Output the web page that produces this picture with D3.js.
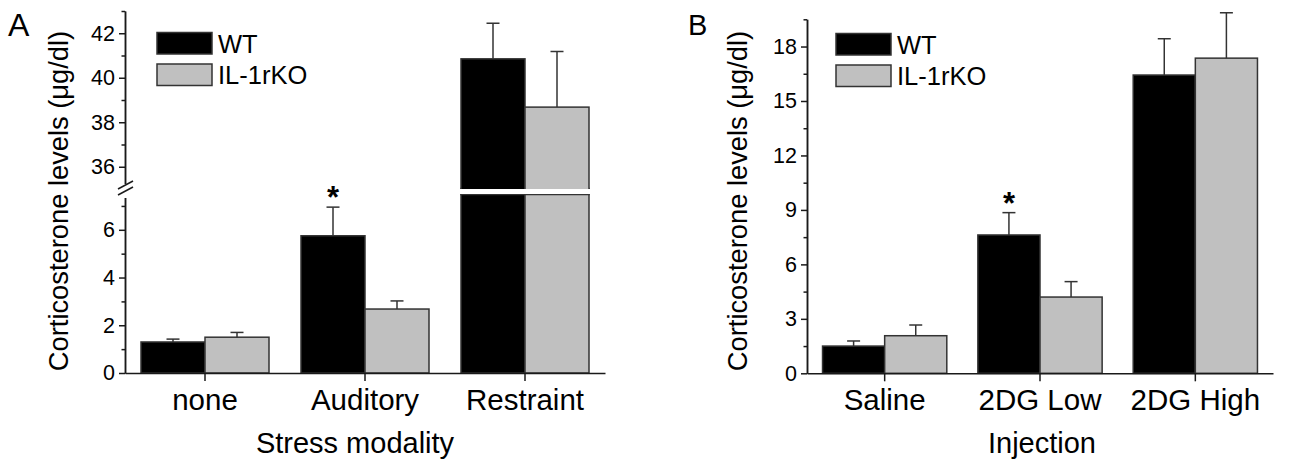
<!DOCTYPE html>
<html><head><meta charset="utf-8">
<script src="https://cdn.jsdelivr.net/npm/d3@7"></script>
<style>
html,body{margin:0;padding:0;background:#fff;}
svg{display:block;font-family:Arial,"Liberation Sans",Helvetica,sans-serif;}
</style></head>
<body>
<svg id="chart" width="1289" height="465"></svg>
<script>
// ---- data ----
const seriesNames = ["WT", "IL-1rKO"];
const seriesColors = ["#000000", "#c0c0c0"];

const categoriesA = ["none", "Auditory", "Restraint"];
const wtMeanA = [1.3, 5.75, 40.85];
const wtErrA  = [0.12, 1.2, 1.6];
const koMeanA = [1.5, 2.68, 38.68];
const koErrA  = [0.2, 0.34, 2.5];
const sigA    = [false, true, false];
const lowerTicksA = [0, 2, 4, 6];
const lowerMinorA = [1, 3, 5, 7];
const upperTicksA = [36, 38, 40, 42];
const upperMinorA = [37, 39, 41, 43];

const categoriesB = ["Saline", "2DG Low", "2DG High"];
const wtMeanB = [1.5, 7.62, 16.43];
const wtErrB  = [0.28, 1.23, 2.0];
const koMeanB = [2.07, 4.2, 17.36];
const koErrB  = [0.59, 0.85, 2.5];
const sigB    = [false, true, false];
const ticksB = [0, 3, 6, 9, 12, 15, 18];
const minorB = [1.5, 4.5, 7.5, 10.5, 13.5, 16.5, 19.5];

const yTitle = "Corticosterone levels (\u03bcg/dl)";
const xTitleA = "Stress modality";
const xTitleB = "Injection";

// ---- drawing ----
const svg = d3.select("#chart");
const AX = "#1a1a1a";
const STROKE = "#333";

function rowsFor(cats, wm, we, km, ke) {
  return cats.map((c, i) => ({cat: c, vals: [
    {s: seriesNames[0], m: wm[i], e: we[i], col: seriesColors[0]},
    {s: seriesNames[1], m: km[i], e: ke[i], col: seriesColors[1]}]}));
}

function styleAxis(g, fs) {
  g.selectAll("path.domain").attr("stroke", AX).attr("stroke-width", 1.5);
  g.selectAll(".tick line").attr("stroke", AX).attr("stroke-width", 1.5);
  g.selectAll(".tick text").attr("fill", "#000").attr("font-size", fs)
    .attr("font-family", "Arial, 'Liberation Sans', sans-serif");
}

function legend(x, y) {
  seriesNames.forEach((s, i) => {
    svg.append("rect").attr("x", x).attr("y", y + i * 31.5).attr("width", 55).attr("height", 21.5)
      .attr("fill", seriesColors[i]).attr("stroke", STROKE).attr("stroke-width", 1.5);
    svg.append("text").attr("x", x + 61).attr("y", y + i * 31.5 + 20)
      .attr("font-size", 25.5).attr("fill", "#000").text(s);
  });
}

function drawBars(rows, x, xs, segs, sig, gap) {
  rows.forEach((r, ci) => {
    r.vals.forEach(v => {
      const x0 = x(r.cat) + xs(v.s), w = xs.bandwidth();
      segs.forEach(sg => {
        const [d0, d1] = sg.y.domain();
        if (v.m <= d0) return;
        const top = Math.min(v.m, d1);
        let yT = sg.y(top), yB = sg.y(d0);
        if (gap && v.m > d1) yT = gap[0];      // lower part reaches into the gap
        if (gap && d0 > 0) yB = gap[1];        // upper part reaches into the gap
        svg.append("rect").attr("x", x0).attr("width", w)
          .attr("y", yT).attr("height", yB - yT)
          .attr("fill", v.col).attr("stroke", STROKE).attr("stroke-width", 1.5);
      });
      if (gap && v.m > segs[0].y.domain()[1]) {
        svg.append("rect").attr("x", x0 - 2).attr("width", w + 4)
          .attr("y", gap[0] + 0.5).attr("height", gap[1] - gap[0] - 1).attr("fill", "#fff");
      }
      const sg = segs.find(s => v.m > s.y.domain()[0] && v.m <= s.y.domain()[1]);
      const cx = x0 + w / 2;
      const yTop = sg.y(v.m), yCap = sg.y(v.m + v.e);
      svg.append("line").attr("x1", cx).attr("x2", cx).attr("y1", yTop).attr("y2", yCap)
        .attr("stroke", STROKE).attr("stroke-width", 1.5);
      svg.append("line").attr("x1", cx - 6.5).attr("x2", cx + 6.5).attr("y1", yCap).attr("y2", yCap)
        .attr("stroke", STROKE).attr("stroke-width", 1.5);
      if (sig[ci] && v.s === seriesNames[0]) {
        svg.append("text").attr("x", cx).attr("y", yCap + 1).attr("text-anchor", "middle")
          .attr("font-size", 31).attr("font-weight", "bold").attr("fill", "#000").text("*");
      }
    });
  });
}

// ===== Panel A =====
const xA = d3.scaleBand().domain(categoriesA).range([125, 605]).padding(0);
const xsA = d3.scaleBand().domain(seriesNames).range([0, xA.bandwidth()]).paddingInner(0).paddingOuter(0.25);
const yLowA = d3.scaleLinear().domain([0, 7.5]).range([373, 194]);
const yUpA = d3.scaleLinear().domain([35, 43]).range([189, 11]);
const rowsA = rowsFor(categoriesA, wtMeanA, wtErrA, koMeanA, koErrA);

drawBars(rowsA, xA, xsA, [{y: yLowA}, {y: yUpA}], sigA, [yUpA(35) - 0.5, yLowA(7.5) + 0.5]);

const gLowA = svg.append("g").attr("transform", "translate(125,0)")
  .call(d3.axisLeft(yLowA).tickValues(lowerTicksA).tickSize(6).tickSizeOuter(0).tickPadding(4));
styleAxis(gLowA, 21.5);
const gLowAm = svg.append("g").attr("transform", "translate(125,0)")
  .call(d3.axisLeft(yLowA).tickValues(lowerMinorA).tickSize(3.5).tickSizeOuter(0).tickFormat(""));
styleAxis(gLowAm, 21.5);
const gUpA = svg.append("g").attr("transform", "translate(125,0)")
  .call(d3.axisLeft(yUpA).tickValues(upperTicksA).tickSize(6).tickSizeOuter(0).tickPadding(4));
styleAxis(gUpA, 21.5);
const gUpAm = svg.append("g").attr("transform", "translate(125,0)")
  .call(d3.axisLeft(yUpA).tickValues(upperMinorA).tickSize(3.5).tickSizeOuter(0).tickFormat(""));
styleAxis(gUpAm, 21.5);
svg.append("rect").attr("x", 120).attr("y", yUpA(35) - 5).attr("width", 10).attr("height", 14).attr("fill", "#fff");
[0, 6].forEach(off => {
  svg.append("line").attr("x1", 118).attr("y1", 189 + off).attr("x2", 133).attr("y2", 181 + off)
    .attr("stroke", AX).attr("stroke-width", 1.5);
});

const gxA = svg.append("g").attr("transform", "translate(0,373)")
  .call(d3.axisBottom(xA).tickSize(8).tickSizeOuter(0).tickPadding(8));
styleAxis(gxA, 29.5);

legend(157, 32.5);

svg.append("text").attr("x", 8).attr("y", 36).attr("font-size", 32).attr("fill", "#000").text("A");
svg.append("text").attr("transform", "translate(68,201) rotate(-90)").attr("text-anchor", "middle")
  .attr("font-size", 27.3).attr("fill", "#000").text(yTitle);
svg.append("text").attr("x", 355).attr("y", 453).attr("text-anchor", "middle")
  .attr("font-size", 29).attr("fill", "#000").text(xTitleA);

// ===== Panel B =====
const xB = d3.scaleBand().domain(categoriesB).range([807, 1273]).padding(0);
const xsB = d3.scaleBand().domain(seriesNames).range([0, xB.bandwidth()]).paddingInner(0).paddingOuter(0.25);
const yB = d3.scaleLinear().domain([0, 19.5]).range([373.3, 19.3]);
const rowsB = rowsFor(categoriesB, wtMeanB, wtErrB, koMeanB, koErrB);

drawBars(rowsB, xB, xsB, [{y: yB}], sigB, null);

const gyB = svg.append("g").attr("transform", "translate(807,0)")
  .call(d3.axisLeft(yB).tickValues(ticksB).tickSize(6).tickSizeOuter(0).tickPadding(4));
styleAxis(gyB, 21.5);
const gyBm = svg.append("g").attr("transform", "translate(807,0)")
  .call(d3.axisLeft(yB).tickValues(minorB).tickSize(3.5).tickSizeOuter(0).tickFormat(""));
styleAxis(gyBm, 21.5);

const gxB = svg.append("g").attr("transform", "translate(0,373.3)")
  .call(d3.axisBottom(xB).tickSize(8).tickSizeOuter(0).tickPadding(8));
styleAxis(gxB, 29.5);

legend(836, 33.5);

svg.append("text").attr("x", 688).attr("y", 35).attr("font-size", 29).attr("fill", "#000").text("B");
svg.append("text").attr("transform", "translate(747,201) rotate(-90)").attr("text-anchor", "middle")
  .attr("font-size", 27.3).attr("fill", "#000").text(yTitle);
svg.append("text").attr("x", 1042).attr("y", 453).attr("text-anchor", "middle")
  .attr("font-size", 29).attr("fill", "#000").text(xTitleB);
</script>
</body></html>
